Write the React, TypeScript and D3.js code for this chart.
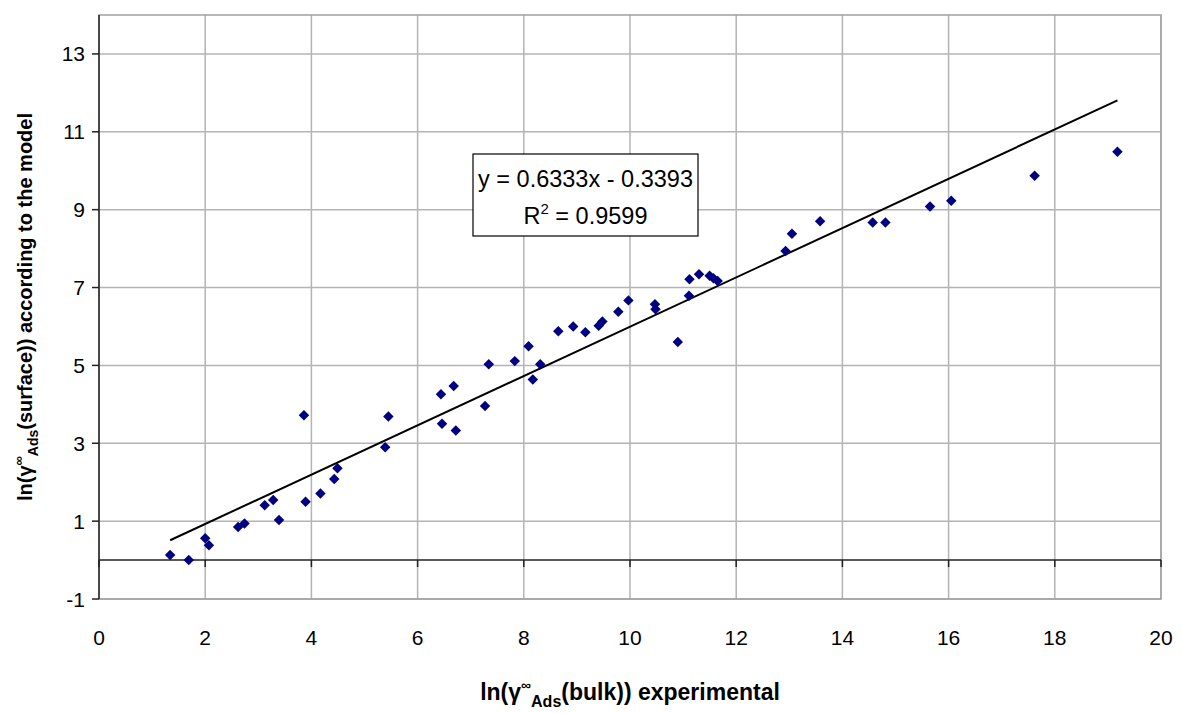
import { useEffect, useRef } from 'react'
import * as d3 from 'd3'

// ln(gamma bulk) experimental
const xValues = [
  1.34, 1.69, 2.0, 2.07, 2.62, 2.74, 3.12, 3.28, 3.39, 3.86, 3.89, 4.17, 4.43, 4.49,
  5.39, 5.45, 6.44, 6.46, 6.68, 6.72, 7.27, 7.34, 7.83, 8.09, 8.17, 8.31, 8.65, 8.93,
  9.16, 9.41, 9.48, 9.78, 9.97, 10.47, 10.48, 10.9, 11.11, 11.12, 11.3, 11.5, 11.57,
  11.65, 12.93, 13.05, 13.58, 14.57, 14.81, 15.65, 16.05, 17.62, 19.18,
]
// ln(gamma surface) according to the model
const yValues = [
  0.13, 0.0, 0.56, 0.38, 0.85, 0.94, 1.41, 1.54, 1.03, 3.72, 1.5, 1.71, 2.08, 2.36,
  2.9, 3.69, 4.26, 3.5, 4.47, 3.33, 3.96, 5.03, 5.11, 5.49, 4.64, 5.03, 5.88, 6.0,
  5.85, 6.02, 6.13, 6.38, 6.67, 6.57, 6.44, 5.6, 6.79, 7.21, 7.34, 7.3, 7.24,
  7.17, 7.94, 8.38, 8.7, 8.67, 8.67, 9.08, 9.23, 9.87, 10.49,
]
const xTicks = [0, 2, 4, 6, 8, 10, 12, 14, 16, 18, 20]
const yTicks = [-1, 1, 3, 5, 7, 9, 11, 13]
const slope = 0.6333
const intercept = -0.3393

const FONT = '"Liberation Sans", Arial, sans-serif'

export default function App() {
  const ref = useRef<SVGSVGElement>(null)

  useEffect(() => {
    if (!ref.current) return
    const root = d3.select(ref.current)
    root.selectAll('*').remove()

    const W = 1181
    const H = 713
    const margin = { top: 15, right: 20, bottom: 114, left: 99 }
    const width = W - margin.left - margin.right
    const height = H - margin.top - margin.bottom

    const x = d3.scaleLinear().domain([0, 20]).range([0, width])
    const y = d3.scaleLinear().domain([-1, 14]).range([height, 0])

    const g = root.append('g').attr('transform', `translate(${margin.left},${margin.top})`)

    // grid
    g.append('g')
      .selectAll('line')
      .data(xTicks.slice(1))
      .enter()
      .append('line')
      .attr('x1', d => x(d))
      .attr('x2', d => x(d))
      .attr('y1', 0)
      .attr('y2', height)
      .attr('stroke', '#b4b4b4')
      .attr('stroke-width', 1.5)
    g.append('g')
      .selectAll('line')
      .data(yTicks)
      .enter()
      .append('line')
      .attr('x1', 0)
      .attr('x2', width)
      .attr('y1', d => y(d))
      .attr('y2', d => y(d))
      .attr('stroke', '#b4b4b4')
      .attr('stroke-width', 1.5)

    // plot border
    g.append('rect')
      .attr('x', 0)
      .attr('y', 0)
      .attr('width', width)
      .attr('height', height)
      .attr('fill', 'none')
      .attr('stroke', '#a0a0a0')
      .attr('stroke-width', 1.5)

    // y axis at x = 0
    g.append('line')
      .attr('x1', x(0))
      .attr('x2', x(0))
      .attr('y1', 0)
      .attr('y2', height)
      .attr('stroke', '#222')
      .attr('stroke-width', 1.5)
    g.append('g')
      .selectAll('line')
      .data(yTicks)
      .enter()
      .append('line')
      .attr('x1', -7)
      .attr('x2', 0)
      .attr('y1', d => y(d))
      .attr('y2', d => y(d))
      .attr('stroke', '#222')
      .attr('stroke-width', 1.5)
    g.append('g')
      .selectAll('text')
      .data(yTicks)
      .enter()
      .append('text')
      .attr('x', -14)
      .attr('y', d => y(d))
      .attr('dy', '0.36em')
      .attr('text-anchor', 'end')
      .style('font-family', FONT)
      .style('font-size', '21px')
      .text(d => d)

    // x axis at y = 0
    g.append('line')
      .attr('x1', 0)
      .attr('x2', width)
      .attr('y1', y(0))
      .attr('y2', y(0))
      .attr('stroke', '#222')
      .attr('stroke-width', 1.5)
    g.append('g')
      .selectAll('line')
      .data(xTicks)
      .enter()
      .append('line')
      .attr('x1', d => x(d))
      .attr('x2', d => x(d))
      .attr('y1', y(0))
      .attr('y2', y(0) + 7)
      .attr('stroke', '#222')
      .attr('stroke-width', 1.5)
    g.append('g')
      .selectAll('text')
      .data(xTicks)
      .enter()
      .append('text')
      .attr('x', d => x(d))
      .attr('y', height + 38)
      .attr('dy', '0.36em')
      .attr('text-anchor', 'middle')
      .style('font-family', FONT)
      .style('font-size', '21px')
      .text(d => d)

    // trend line
    const [xMin, xMax] = d3.extent(xValues) as [number, number]
    const line = d3.line<number>().x(d => x(d)).y(d => y(slope * d + intercept))
    g.append('path')
      .datum([xMin, xMax])
      .attr('d', line)
      .attr('stroke', '#000')
      .attr('stroke-width', 2)
      .attr('fill', 'none')

    // points
    const diamond = d3.symbol().type(d3.symbolDiamond2).size(70)
    g.append('g')
      .selectAll('path')
      .data(xValues.map((v, i) => [v, yValues[i]]))
      .enter()
      .append('path')
      .attr('d', diamond)
      .attr('transform', d => `translate(${x(d[0])},${y(d[1])})`)
      .attr('fill', '#000080')

    // equation box
    const box = root.append('g')
    box.append('rect')
      .attr('x', 473)
      .attr('y', 154)
      .attr('width', 225)
      .attr('height', 82)
      .attr('fill', '#fff')
      .attr('stroke', '#000')
      .attr('stroke-width', 1.2)
    box.append('text')
      .attr('x', 585.5)
      .attr('y', 187)
      .attr('text-anchor', 'middle')
      .style('font-family', FONT)
      .style('font-size', '23.5px')
      .text(`y = ${slope}x - ${Math.abs(intercept)}`)
    const r2 = box.append('text')
      .attr('x', 585.5)
      .attr('y', 224)
      .attr('text-anchor', 'middle')
      .style('font-family', FONT)
      .style('font-size', '23.5px')
    r2.append('tspan').text('R')
    r2.append('tspan').attr('dy', -10).style('font-size', '15px').text('2')
    r2.append('tspan').attr('dy', 10).text(' = 0.9599')

    // x title
    const xt = root.append('text')
      .attr('x', 630)
      .attr('y', 700)
      .attr('text-anchor', 'middle')
      .style('font-family', FONT)
      .style('font-size', '23px')
      .style('font-weight', 'bold')
    xt.append('tspan').text('ln(γ')
    xt.append('tspan').attr('dy', -10).style('font-size', '14px').text('∞')
    xt.append('tspan').attr('dy', 17).style('font-size', '16px').text('Ads')
    xt.append('tspan').attr('dy', -7).text('(bulk)) experimental')

    // y title
    const yt = root.append('text')
      .attr('transform', `translate(32,307) rotate(-90)`)
      .attr('text-anchor', 'middle')
      .style('font-family', FONT)
      .style('font-size', '20px')
      .style('font-weight', 'bold')
    yt.append('tspan').text('ln(γ')
    yt.append('tspan').attr('dy', -9).style('font-size', '13px').text('∞')
    yt.append('tspan').attr('dy', 15).style('font-size', '14px').text('Ads')
    yt.append('tspan').attr('dy', -6).text('(surface)) according to the model')
  }, [])

  return (
    <svg
      ref={ref}
      width={1181}
      height={713}
      style={{ position: 'absolute', left: 0, top: 0, background: '#fff' }}
    />
  )
}
